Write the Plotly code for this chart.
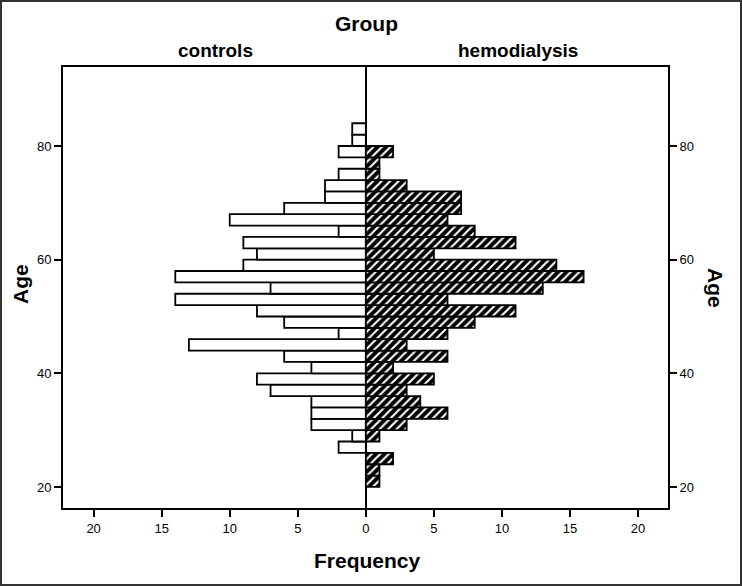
"""Back-to-back age histogram: controls vs hemodialysis."""

import plotly.graph_objects as go

FONT_FAMILY = "Liberation Sans, Arial, sans-serif"

# Age bins (lower edge, 2-year width) and counts per group
BIN_LOWER = [20, 22, 24, 26, 28, 30, 32, 34, 36, 38, 40, 42, 44, 46, 48, 50,
             52, 54, 56, 58, 60, 62, 64, 66, 68, 70, 72, 74, 76, 78, 80, 82]
CONTROLS = [0, 0, 0, 2, 1, 4, 4, 4, 7, 8, 4, 6, 13, 2, 6, 8,
            14, 7, 14, 9, 8, 9, 2, 10, 6, 3, 3, 2, 0, 2, 1, 1]
HEMODIALYSIS = [1, 1, 2, 0, 1, 3, 6, 4, 3, 5, 2, 6, 3, 6, 8, 11,
                6, 13, 16, 14, 5, 11, 8, 6, 7, 7, 3, 1, 1, 2, 0, 0]
BIN_WIDTH = 2

FREQ_TICKS = [-20, -15, -10, -5, 0, 5, 10, 15, 20]
AGE_TICKS = [20, 40, 60, 80]

# pixel geometry of the plot frame, used to place the text labels
L, R, T, B = 63, 668, 67, 508
W, H = 742, 586


def px_x(p):
    return (p - L) / (R - L)


def px_y(p):
    return (B - p) / (B - T)


ctrl = [(b + BIN_WIDTH / 2, c) for b, c in zip(BIN_LOWER, CONTROLS) if c > 0]
hemo = [(b + BIN_WIDTH / 2, c) for b, c in zip(BIN_LOWER, HEMODIALYSIS) if c > 0]

fig = go.Figure()

fig.add_trace(go.Bar(
    y=[a for a, _ in ctrl], x=[-c for _, c in ctrl],
    orientation="h", width=BIN_WIDTH, name="controls",
    marker=dict(color="white", line=dict(color="black", width=1.8)),
    customdata=[c for _, c in ctrl],
    hovertemplate="controls<br>Age %{y}<br>Frequency %{customdata}<extra></extra>",
))

fig.add_trace(go.Bar(
    y=[a for a, _ in hemo], x=[c for _, c in hemo],
    orientation="h", width=BIN_WIDTH, name="hemodialysis", yaxis="y2",
    marker=dict(
        color="black",
        line=dict(color="black", width=1.8),
        pattern=dict(shape="/", fgcolor="white", bgcolor="black",
                     size=6, solidity=0.35, fillmode="replace"),
    ),
    hovertemplate="hemodialysis<br>Age %{y}<br>Frequency %{x}<extra></extra>",
))

tick_font = dict(family=FONT_FAMILY, size=13, color="black")
title_font = dict(family=FONT_FAMILY, size=21, color="black", weight="bold")
sub_font = dict(family=FONT_FAMILY, size=19, color="black", weight="bold")

fig.update_layout(
    width=W, height=H,
    margin=dict(l=L, r=W - R, t=T, b=H - B),
    paper_bgcolor="white", plot_bgcolor="white",
    barmode="overlay", showlegend=False,
    font=dict(family=FONT_FAMILY, color="black"),
    xaxis=dict(
        range=[-22.25, 22.2], tickvals=FREQ_TICKS,
        ticktext=[str(abs(v)) for v in FREQ_TICKS],
        ticks="outside", ticklen=7, tickwidth=1.5, tickcolor="black",
        tickfont=tick_font, showgrid=False,
        showline=True, linecolor="black", linewidth=2, mirror=True,
        zeroline=True, zerolinecolor="black", zerolinewidth=2,
    ),
    yaxis=dict(
        range=[16.3, 93.9], tickvals=AGE_TICKS,
        ticks="outside", ticklen=7, tickwidth=1.5, tickcolor="black",
        tickfont=tick_font, showgrid=False, zeroline=False,
        showline=True, linecolor="black", linewidth=2,
    ),
    yaxis2=dict(
        overlaying="y", side="right", matches="y", tickvals=AGE_TICKS,
        ticks="outside", ticklen=7, tickwidth=1.5, tickcolor="black",
        tickfont=tick_font, showgrid=False, zeroline=False,
        showline=True, linecolor="black", linewidth=2,
    ),
)

annotations = [
    dict(text="Group", x=px_x(366), y=px_y(24), font=title_font),
    dict(text="controls", x=px_x(215), y=px_y(50), font=sub_font),
    dict(text="hemodialysis", x=px_x(518), y=px_y(50), font=sub_font),
    dict(text="Frequency", x=px_x(367), y=px_y(560), font=title_font),
    dict(text="Age", x=px_x(20), y=px_y(284), font=title_font, textangle=-90),
    dict(text="Age", x=px_x(716), y=px_y(288), font=title_font, textangle=90),
]
for a in annotations:
    fig.add_annotation(xref="paper", yref="paper", showarrow=False,
                       xanchor="center", yanchor="middle", **a)

# dark frame round the whole image
fig.add_shape(type="rect", xref="paper", yref="paper",
              x0=px_x(1), x1=px_x(W - 1), y0=px_y(H - 1), y1=px_y(1),
              line=dict(color="#333333", width=2), layer="above")

# drop the default page margin so the figure sits at the window corner
fig.write_html("out.html",
               config={"displayModeBar": False},
               post_script="document.body.style.margin='0';"
                           "document.body.style.overflow='hidden';")
